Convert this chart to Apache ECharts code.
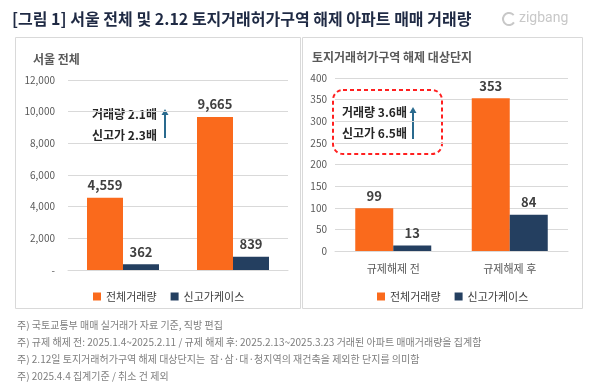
<!DOCTYPE html>
<html><head><meta charset="utf-8">
<script src="https://cdn.jsdelivr.net/npm/echarts@6/dist/echarts.min.js"></script>
<style>html,body{margin:0;padding:0;background:#fff}#c{width:600px;height:389px}</style>
</head><body><div id="c"></div>
<script>
const categories = ['규제해제 전', '규제해제 후'];
const seriesNames = ['전체거래량', '신고가케이스'];
const seoulTotal = [4559, 9665];
const seoulHigh = [362, 839];
const zoneTotal = [99, 353];
const zoneHigh = [13, 84];
const footnotes = [
  '주) 국토교통부 매매 실거래가 자료 기준, 직방 편집',
  '주) 규제 해제 전: 2025.1.4~2025.2.11 / 규제 해제 후: 2025.2.13~2025.3.23 거래된 아파트 매매거래량을 집계함',
  '주) 2.12일 토지거래허가구역 해제 대상단지는  잠·삼·대·청지역의 재건축을 제외한 단지를 의미함',
  '주) 2025.4.4 집계기준 / 취소 건 제외'
];

const FONT = '"Noto Sans CJK KR", "Noto Sans", sans-serif';
const ORANGE = '#FA6A1C';
const NAVY = '#243F60';
const chart = echarts.init(document.getElementById('c'), null, {renderer: 'canvas'});

const fmt = v => v === 0 ? '-' : v.toLocaleString('en-US');
const lbl = {show: true, position: 'top', distance: 6, fontFamily: FONT, fontSize: 13, fontWeight: 'bold', color: '#404040',
  formatter: p => p.value.toLocaleString('en-US')};

const legendBase = {
  data: seriesNames, icon: 'rect', itemWidth: 8, itemHeight: 8, itemGap: 14,
  textStyle: {fontFamily: FONT, fontSize: 11, color: '#404040'}, selectedMode: false
};

function txt(x, y, s, style) {
  return {type: 'text', x: x, y: y, style: Object.assign({text: s, fontFamily: FONT, textVerticalAlign: 'middle'}, style)};
}
function arrow(x, y1, y2) {
  return [
    {type: 'line', shape: {x1: x, y1: y2, x2: x, y2: y1 + 4}, style: {stroke: '#2A6A8E', lineWidth: 2}},
    {type: 'polygon', shape: {points: [[x, y1], [x - 3.5, y1 + 6], [x + 3.5, y1 + 6]]}, style: {fill: '#2A6A8E'}}
  ];
}

const graphics = [
  {type: 'rect', shape: {x: 15.5, y: 37.5, width: 285, height: 271}, style: {fill: 'none', stroke: '#D9D9D9', lineWidth: 1}},
  {type: 'rect', shape: {x: 302.5, y: 37.5, width: 280, height: 271}, style: {fill: 'none', stroke: '#D9D9D9', lineWidth: 1}},
  txt(12, 19, '[그림 1] 서울 전체 및 2.12 토지거래허가구역 해제 아파트 매매 거래량', {fontSize: 16, fontWeight: 'bold', fill: '#1F2A44'}),
  {type: 'arc', shape: {cx: 509, cy: 19, r: 6, startAngle: 0.6, endAngle: 5.6}, style: {stroke: '#C8C8C8', lineWidth: 2, fill: 'none'}},
  txt(519, 18, 'zigbang', {fontSize: 14, fill: '#C8C8C8', fontFamily: 'Roboto, sans-serif'}),
  txt(33, 59, '서울 전체', {fontSize: 12, fontWeight: 'bold', fill: '#595959'}),
  txt(312, 57, '토지거래허가구역 해제 대상단지', {fontSize: 12, fontWeight: 'bold', fill: '#595959'}),
  txt(92, 114, '거래량 2.1배', {fontSize: 12, fontWeight: 'bold', fill: '#262626'}),
  txt(92, 135, '신고가 2.3배', {fontSize: 12, fontWeight: 'bold', fill: '#262626'}),
  ...arrow(165, 109, 138),
  {type: 'rect', shape: {x: 333, y: 90, width: 109, height: 64, r: 10}, style: {fill: 'none', stroke: '#FF2020', lineWidth: 2, lineDash: [4, 3]}},
  txt(342, 112, '거래량 3.6배', {fontSize: 12, fontWeight: 'bold', fill: '#262626'}),
  txt(342, 133, '신고가 6.5배', {fontSize: 12, fontWeight: 'bold', fill: '#262626'}),
  ...arrow(413, 107, 139)
];
footnotes.forEach((s, i) => graphics.push(txt(17, 325 + i * 17, s, {fontSize: 10, fill: '#7F7F7F'})));

const option = {
  animation: false,
  textStyle: {fontFamily: FONT},
  grid: [
    {left: 68, right: 312, top: 80, bottom: 119},
    {left: 335, right: 32, top: 78, bottom: 138}
  ],
  legend: [
    Object.assign({left: 88, top: 286}, legendBase),
    Object.assign({left: 372, top: 286}, legendBase)
  ],
  xAxis: [
    {type: 'category', gridIndex: 0, data: categories, axisTick: {show: false}, axisLabel: {show: false},
      axisLine: {lineStyle: {color: '#D9D9D9'}}},
    {type: 'category', gridIndex: 1, data: categories, axisTick: {show: false},
      axisLabel: {fontFamily: FONT, fontSize: 11, color: '#595959', margin: 12},
      axisLine: {lineStyle: {color: '#D9D9D9'}}}
  ],
  yAxis: [
    {type: 'value', gridIndex: 0, min: 0, max: 12000, interval: 2000,
      axisLabel: {formatter: fmt, fontFamily: FONT, fontSize: 10, color: '#595959', margin: 13},
      splitLine: {lineStyle: {color: '#D9D9D9'}}, axisLine: {show: false}, axisTick: {show: false}},
    {type: 'value', gridIndex: 1, min: 0, max: 400, interval: 50,
      axisLabel: {fontFamily: FONT, fontSize: 10, color: '#595959', margin: 8},
      splitLine: {lineStyle: {color: '#D9D9D9'}}, axisLine: {show: false}, axisTick: {show: false}}
  ],
  series: [
    {name: seriesNames[0], type: 'bar', xAxisIndex: 0, yAxisIndex: 0, data: seoulTotal, barWidth: 36, barGap: '0%', itemStyle: {color: ORANGE}, label: lbl},
    {name: seriesNames[1], type: 'bar', xAxisIndex: 0, yAxisIndex: 0, data: seoulHigh, barWidth: 36, barGap: '0%', itemStyle: {color: NAVY}, label: lbl},
    {name: seriesNames[0], type: 'bar', xAxisIndex: 1, yAxisIndex: 1, data: zoneTotal, barWidth: 38, barGap: '0%', itemStyle: {color: ORANGE}, label: lbl},
    {name: seriesNames[1], type: 'bar', xAxisIndex: 1, yAxisIndex: 1, data: zoneHigh, barWidth: 38, barGap: '0%', itemStyle: {color: NAVY}, label: lbl}
  ],
  graphic: graphics
};
chart.setOption(option);
</script>
</body></html>
